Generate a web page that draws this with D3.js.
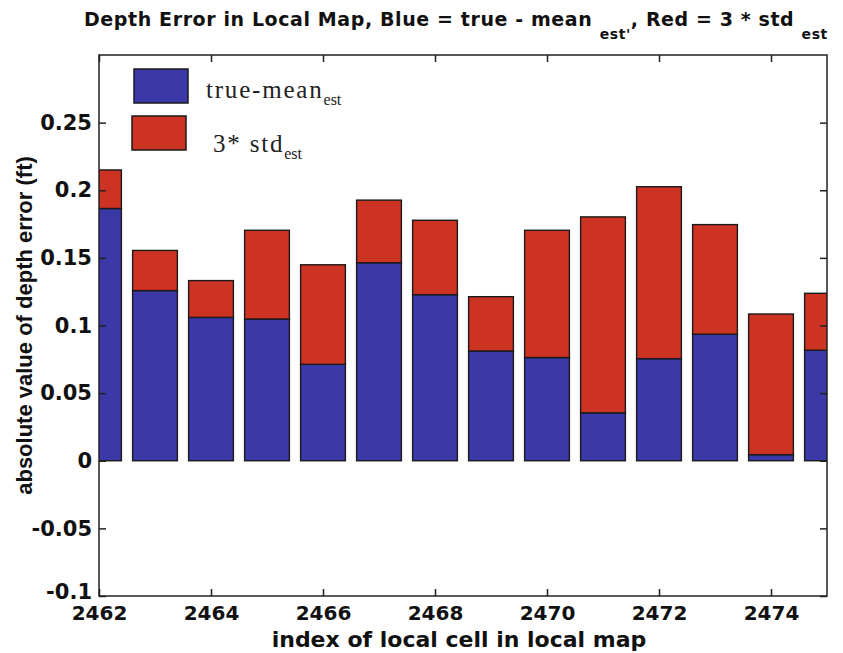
<!DOCTYPE html>
<html>
<head>
<meta charset="utf-8">
<script src="https://cdn.jsdelivr.net/npm/d3@7"></script>
<style>
  html, body { margin: 0; padding: 0; background: #fff; }
  svg { display: block; }
  .narrow { font-family: "DejaVu Sans", sans-serif; font-weight: bold; }
</style>
</head>
<body>
<svg id="chart" width="843" height="653"></svg>
<script>
// ─── Data ──────────────────────────────────────────────────────
const cells = [2462, 2463, 2464, 2465, 2466, 2467, 2468, 2469, 2470, 2471, 2472, 2473, 2474, 2475];
const trueMinusMean = [0.1865, 0.1258, 0.1060, 0.1048, 0.0713, 0.1464, 0.1228, 0.0812, 0.0763, 0.0354, 0.0755, 0.0936, 0.0045, 0.0817];
const threeStd = [0.0285, 0.0297, 0.0272, 0.0656, 0.0736, 0.0463, 0.0550, 0.0401, 0.0941, 0.1449, 0.1271, 0.0810, 0.1040, 0.0421];
const xTicks = [2462, 2464, 2466, 2468, 2470, 2472, 2474];
const yTicks = [-0.1, -0.05, 0, 0.05, 0.1, 0.15, 0.2, 0.25];
const yTickLabels = ["-0.1", "-0.05", "0", "0.05", "0.1", "0.15", "0.2", "0.25"];
const seriesKeys = ["mean", "std"];
const seriesColors = ["#3b38a8", "#cc3322"];

// ─── Layout ────────────────────────────────────────────────────
const W = 843, H = 653;
const margin = { top: 55, right: 16, bottom: 57, left: 99 };
const iw = W - margin.left - margin.right;
const ih = H - margin.top - margin.bottom;

const svg = d3.select("#chart");
const g = svg.append("g").attr("transform", `translate(${margin.left},${margin.top})`);

const x = d3.scaleLinear().domain([2462, 2475]).range([0, iw]);
const y = d3.scaleLinear().domain([-0.1, 0.3]).range([ih, 0]);
const barW = (x(1) - x(0)) * 0.8;

svg.append("defs").append("clipPath").attr("id", "plot-clip")
  .append("rect").attr("width", iw).attr("height", ih);

// ─── Bars (stacked) ────────────────────────────────────────────
const rows = cells.map((c, i) => ({ cell: c, mean: trueMinusMean[i], std: threeStd[i] }));
const stacked = d3.stack().keys(seriesKeys)(rows);

g.append("g").attr("clip-path", "url(#plot-clip)")
  .selectAll("g")
  .data(stacked)
  .join("g")
  .attr("fill", (d, i) => seriesColors[i])
  .selectAll("rect")
  .data((d) => d)
  .join("rect")
  .attr("x", (d) => x(d.data.cell) - barW / 2)
  .attr("width", barW)
  .attr("y", (d) => y(d[1]))
  .attr("height", (d) => y(d[0]) - y(d[1]))
  .attr("stroke", "#1a1a1a")
  .attr("stroke-width", 1.4);

// ─── Axes ──────────────────────────────────────────────────────
const tickLen = 7;
const axisStyle = (sel) => {
  sel.select(".domain").remove();
  sel.selectAll(".tick line").attr("stroke", "#222").attr("stroke-width", 1.5);
};

g.append("g")
  .attr("transform", `translate(0,${ih})`)
  .call(d3.axisBottom(x).tickValues(xTicks).tickFormat(d3.format("d")).tickSizeInner(-tickLen).tickPadding(10))
  .call(axisStyle)
  .call((s) => s.selectAll("text").attr("class", "narrow").attr("font-size", 20).attr("fill", "#111").attr("dy", "0.72em"));

g.append("g")
  .call(d3.axisTop(x).tickValues(xTicks).tickSizeInner(-tickLen).tickFormat(""))
  .call(axisStyle);

g.append("g")
  .call(d3.axisLeft(y).tickValues(yTicks).tickFormat((d, i) => yTickLabels[i]).tickSizeInner(-tickLen).tickPadding(7))
  .call(axisStyle)
  .call((s) => s.selectAll("text").attr("class", "narrow").attr("font-size", 21).attr("fill", "#111")
    .attr("dy", (d) => (d === -0.1 ? "0.1em" : "0.32em")));

g.append("g")
  .attr("transform", `translate(${iw},0)`)
  .call(d3.axisRight(y).tickValues(yTicks).tickSizeInner(-tickLen).tickFormat(""))
  .call(axisStyle);

g.append("rect")
  .attr("width", iw).attr("height", ih)
  .attr("fill", "none").attr("stroke", "#222").attr("stroke-width", 1.5);

// ─── Titles ────────────────────────────────────────────────────
const title = svg.append("text")
  .attr("class", "narrow")
  .attr("x", 84).attr("y", 26)
  .attr("font-size", 19)
  .attr("fill", "#111")
  .attr("letter-spacing", 0.6);
title.append("tspan").text("Depth Error in Local Map, Blue = true - mean ");
title.append("tspan").attr("font-size", 14).attr("dy", 13).text("est'");
title.append("tspan").attr("dy", -13).text(", Red = 3 * std ");
title.append("tspan").attr("font-size", 14).attr("dy", 13).text("est");

svg.append("text")
  .attr("class", "narrow")
  .attr("x", 459).attr("y", 647)
  .attr("text-anchor", "middle")
  .attr("font-size", 22)
  .attr("fill", "#111")
  .text("index of local cell in local map");

svg.append("text")
  .attr("transform", `translate(32,${margin.top + ih / 2}) rotate(-90)`)
  .attr("text-anchor", "middle")
  .attr("font-family", "Liberation Sans, Arial, sans-serif")
  .attr("font-weight", "bold")
  .attr("font-size", 22)
  .attr("fill", "#111")
  .text("absolute value of depth error (ft)");

// ─── Legend ────────────────────────────────────────────────────
const legendItems = [
  { label: "true-mean", sub: "est", dx: 0, base: 29 },
  { label: "3* std", sub: "est", dx: 9, base: 36 }
];
const legend = svg.append("g").attr("transform", "translate(134,69)");
const item = legend.selectAll("g")
  .data(legendItems)
  .join("g")
  .attr("transform", (d, i) => `translate(${-i * 2},${i * 47})`);
item.append("rect")
  .attr("width", 54).attr("height", 34)
  .attr("fill", (d, i) => seriesColors[i])
  .attr("stroke", "#1a1a1a").attr("stroke-width", 1.5);
const lt = item.append("text")
  .attr("x", (d) => 72 + d.dx).attr("y", (d) => d.base)
  .attr("font-family", "Liberation Serif, Times New Roman, serif")
  .attr("font-size", 25)
  .attr("letter-spacing", 1.8)
  .attr("fill", "#222");
lt.append("tspan").text((d) => d.label);
lt.append("tspan").attr("font-size", 16).attr("dy", 7).attr("letter-spacing", 0).text((d) => d.sub);
</script>
</body>
</html>
